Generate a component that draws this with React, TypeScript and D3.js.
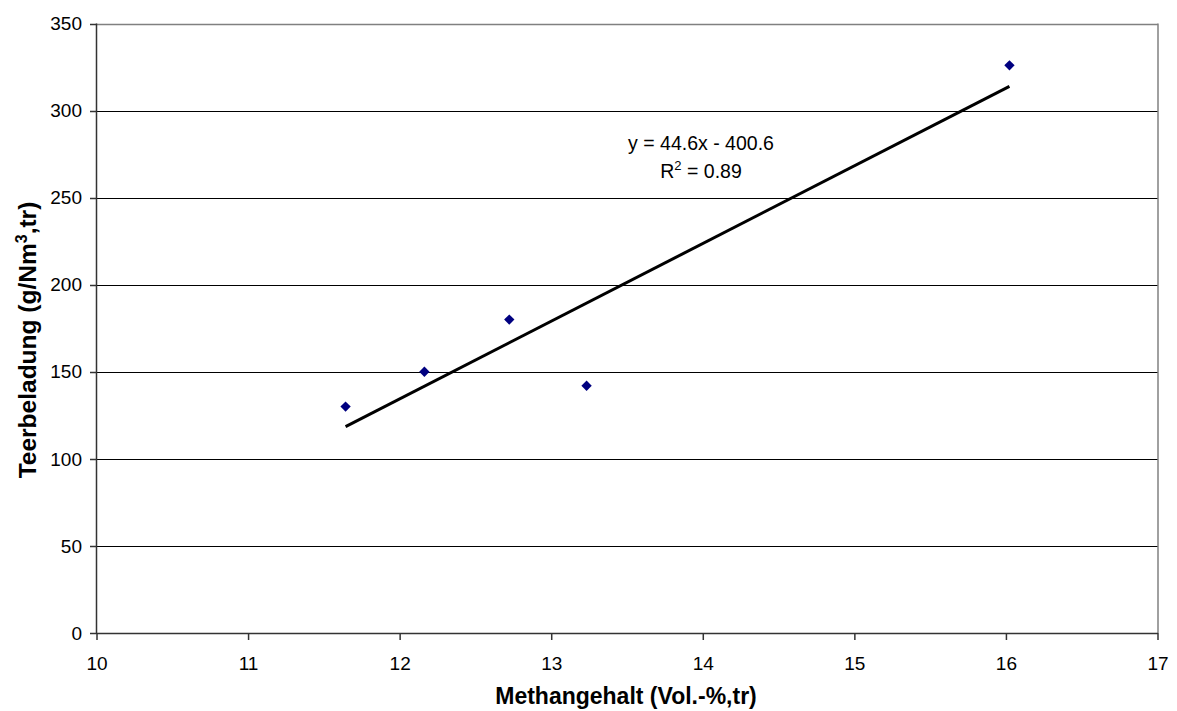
import React from "react";
import * as d3 from "d3";

const methane = [11.64, 12.16, 12.72, 13.23, 16.02];
const tar = [130, 150, 180, 142, 326];
const xTicks = [10, 11, 12, 13, 14, 15, 16, 17];
const yTicks = [0, 50, 100, 150, 200, 250, 300, 350];
const slope = 44.6;
const intercept = -400.6;

export default function App() {
  const W = 1177, H = 711;
  const left = 97, right = 1158, top = 23.5, bottom = 633;
  const x = d3.scaleLinear().domain([10, 17]).range([left, right]);
  const y = d3.scaleLinear().domain([0, 350]).range([bottom, top]);
  const font = "'Liberation Sans', Arial, sans-serif";
  const xMin = d3.min(methane)!, xMax = d3.max(methane)!;
  const line = d3.line<number>().x((d) => x(d)).y((d) => y(slope * d + intercept));
  const diamond = d3.symbol().type(d3.symbolDiamond2 ?? d3.symbolDiamond).size(68)();
  return (
    <svg width={W} height={H} style={{ position: "absolute", left: 0, top: 0, background: "#fff" }} fontFamily={font}>
      <rect x={0} y={0} width={W} height={H} fill="#fff" />
      {yTicks.filter((t) => t > 0 && t < 350).map((t) => (
        <line key={t} x1={left} x2={right} y1={Math.round(y(t)) + 0.5} y2={Math.round(y(t)) + 0.5} stroke="#000" strokeWidth={1} />
      ))}
      <line x1={left} x2={right} y1={Math.round(y(350)) + 0.5} y2={Math.round(y(350)) + 0.5} stroke="#808080" strokeWidth={1.5} />
      <line x1={right} x2={right} y1={top} y2={bottom} stroke="#808080" strokeWidth={1.5} />
      <line x1={left - 0.5} x2={left - 0.5} y1={top} y2={bottom} stroke="#333" strokeWidth={1.5} />
      <line x1={left} x2={right} y1={bottom + 0.5} y2={bottom + 0.5} stroke="#333" strokeWidth={1.5} />
      {yTicks.map((t) => (
        <g key={t}>
          <line x1={left - 7} x2={left} y1={Math.round(y(t)) + 0.5} y2={Math.round(y(t)) + 0.5} stroke="#333" strokeWidth={1.5} />
          <text x={left - 15} y={y(t)} dy="0.35em" textAnchor="end" fontSize={19} fill="#000">{t}</text>
        </g>
      ))}
      {xTicks.map((t) => (
        <g key={t}>
          <line x1={x(t)} x2={x(t)} y1={bottom} y2={bottom + 7} stroke="#333" strokeWidth={1.5} />
          <text x={x(t)} y={bottom + 30} dy="0.35em" textAnchor="middle" fontSize={19} fill="#000">{t}</text>
        </g>
      ))}
      <path d={line([xMin, xMax]) || ""} stroke="#000" strokeWidth={3} fill="none" />
      {methane.map((m, i) => (
        <path key={i} d={diamond || ""} transform={`translate(${x(m)},${y(tar[i])})`} fill="#000080" />
      ))}
      <text x={701} y={143} dy="0.35em" textAnchor="middle" fontSize={19.5}>y = 44.6x - 400.6</text>
      <text x={701} y={171} dy="0.35em" textAnchor="middle" fontSize={19.5}>
        R<tspan dy="-8" fontSize={13}>2</tspan><tspan dy="8"> = 0.89</tspan>
      </text>
      <text x={626} y={696} dy="0.35em" textAnchor="middle" fontSize={23} fontWeight="bold">Methangehalt (Vol.-%,tr)</text>
      <text transform={`translate(27,340) rotate(-90)`} dy="0.35em" textAnchor="middle" fontSize={24.5} fontWeight="bold">
        Teerbeladung (g/Nm<tspan dy="-9" fontSize={16}>3</tspan><tspan dy="9">,tr)</tspan>
      </text>
    </svg>
  );
}
